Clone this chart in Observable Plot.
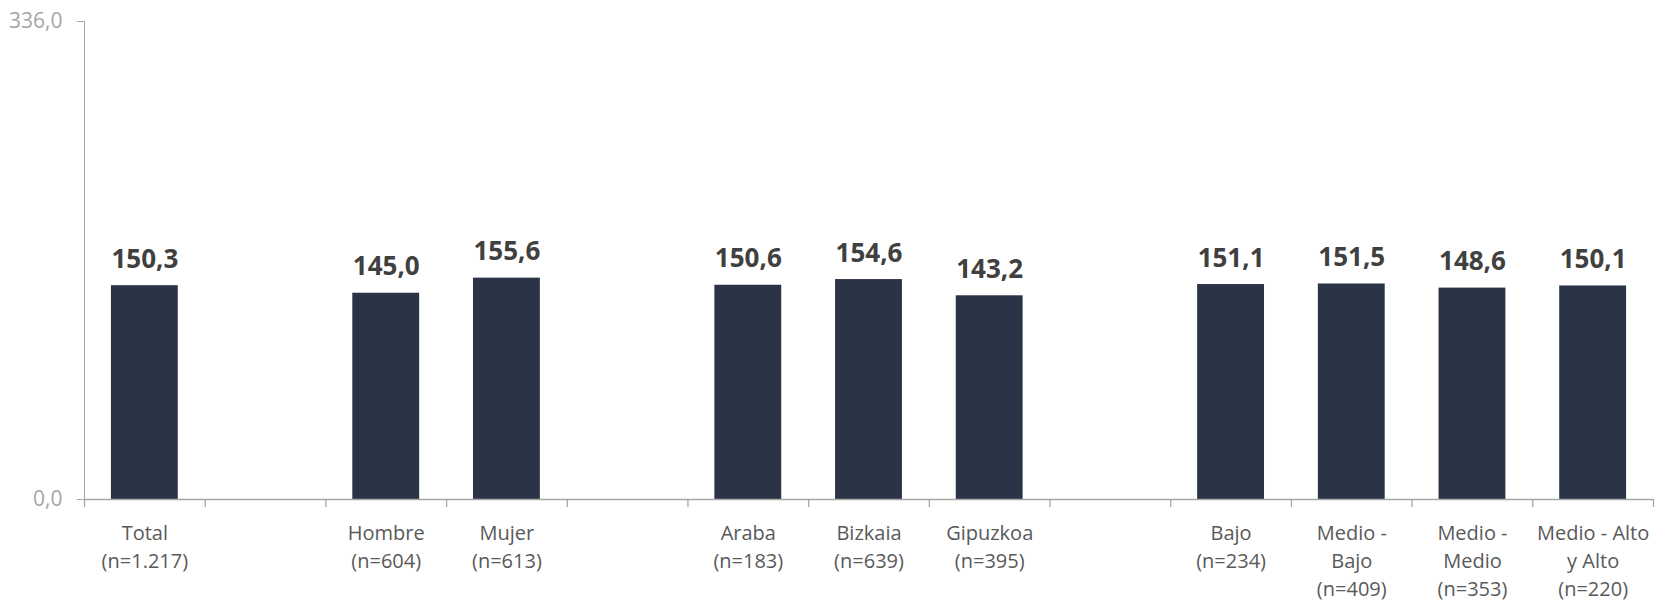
<!DOCTYPE html>
<html>
<head>
<meta charset="utf-8">
<script src="https://cdn.jsdelivr.net/npm/d3@7"></script>
<script src="https://cdn.jsdelivr.net/npm/@observablehq/plot@0.6"></script>
<style>
  html, body { margin: 0; padding: 0; background: #ffffff; }
  #chart { width: 1657px; height: 601px; overflow: hidden; }
</style>
</head>
<body>
<div id="chart"></div>
<script>
// ---- Data ----
const categories = ["Total", "gap1", "Hombre", "Mujer", "gap2", "Araba", "Bizkaia", "Gipuzkoa", "gap3", "Bajo", "Medio - Bajo", "Medio - Medio", "Medio - Alto y Alto"];
const tickLabels = ["Total\n(n=1.217)", "", "Hombre\n(n=604)", "Mujer\n(n=613)", "", "Araba\n(n=183)", "Bizkaia\n(n=639)", "Gipuzkoa\n(n=395)", "", "Bajo\n(n=234)", "Medio -\nBajo\n(n=409)", "Medio -\nMedio\n(n=353)", "Medio - Alto\ny Alto\n(n=220)"];
const values = [150.3, null, 145.0, 155.6, null, 150.6, 154.6, 143.2, null, 151.1, 151.5, 148.6, 150.1];
const yTicks = [0, 336];

const fmt = v => d3.format(".1f")(v).replace(".", ",");

const rows = categories.map((c, i) => ({cat: c, label: tickLabels[i], value: values[i]}));
const bars = rows.filter(d => d.value != null);

const W = 1657, H = 601;
const mL = 84, mR = 4, mT = 21, mB = 102;
const step = (W - mL - mR) / categories.length;
const gray = "#a6a6a6";

const plot = Plot.plot({
  width: W,
  height: H,
  marginLeft: mL,
  marginRight: mR,
  marginTop: mT,
  marginBottom: mB,
  style: {fontFamily: "'Open Sans', sans-serif", fontSize: "21px", color: gray, background: "#ffffff"},
  x: {domain: categories, paddingInner: 0.446, paddingOuter: 0.223, round: false, axis: null},
  y: {domain: [0, 336], ticks: yTicks, tickFormat: fmt, tickSize: 7, tickPadding: 15, line: true, label: null},
  marks: [
    Plot.barY(bars, {x: "cat", y: "value", fill: "#2b3447"}),
    Plot.ruleY([0], {stroke: gray, strokeWidth: 1.3}),
    // tick marks at slot boundaries
    Plot.ruleX(rows, {x: "cat", y1: 0, y2: 0, insetBottom: -8, dx: -step / 2, stroke: gray, strokeWidth: 1.3}),
    Plot.ruleX(rows.slice(-1), {x: "cat", y1: 0, y2: 0, insetBottom: -8, dx: step / 2, stroke: gray, strokeWidth: 1.3}),
    Plot.text(bars, {x: "cat", y: "value", text: d => fmt(d.value), dy: -18, lineAnchor: "bottom",
      fill: "#404040", fontWeight: "bold", fontSize: 26}),
    Plot.text(rows, {x: "cat", y: 0, text: "label", dy: 20, lineAnchor: "top", lineHeight: 1.41,
      fill: "#595959", fontSize: 20})
  ]
});
document.getElementById("chart").appendChild(plot);
</script>
</body>
</html>
